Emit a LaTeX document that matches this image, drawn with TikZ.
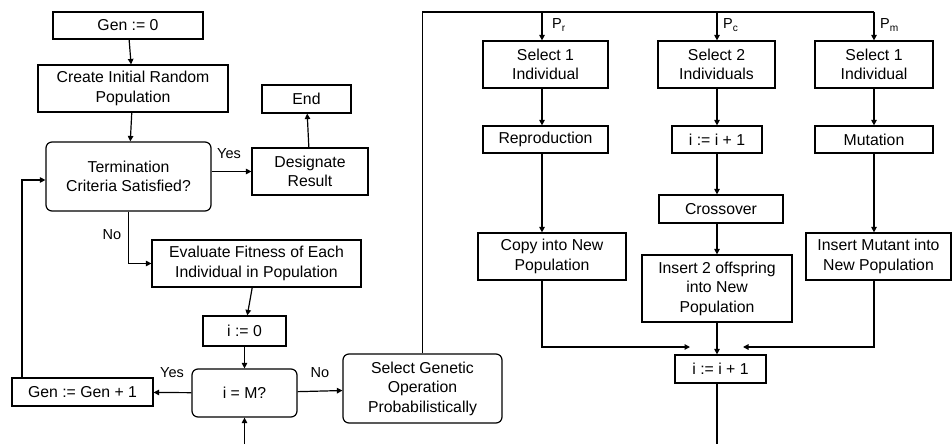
\documentclass[tikz,border=0pt]{standalone}
\usepackage{fontspec}
\setmainfont{Liberation Sans}
\usetikzlibrary{arrows.meta}

\tikzset{
    box/.style={draw, line width=1.2pt, align=center, inner sep=0pt,
        font=\fontsize{15.8}{19.5}\selectfont},
    rbox/.style={box, rounded corners=6pt},
    arr/.style={line width=1.2pt, -{Triangle[length=5.5pt,width=5.5pt]}},
    lbl/.style={font=\fontsize{14.5}{16}\selectfont, inner sep=0pt}
}

\begin{document}
\begin{tikzpicture}[x=1pt, y=-1pt]
                \useasboundingbox (0,0) rectangle (952,444);

                % main loop
                \node[box, minimum width=150pt, minimum height=27pt] (gen0) at (128,25.5) {Gen\ := 0};
                \node[box, minimum width=190pt, minimum height=47pt] (create) at (133,88.5) {Create Initial Random\\Population};
                \node[rbox, minimum width=165pt, minimum height=69pt] (term) at (128.5,176.5) {Termination\\Criteria\ Satisfied?};
                \node[box, minimum width=89pt, minimum height=28pt] (finish) at (306.5,99) {End};
                \node[box, minimum width=116pt, minimum height=47pt] (result) at (310,171.5) {Designate\\Result};
                \node[box, minimum width=209pt, minimum height=47pt] (eval) at (256.5,263.5) {Evaluate Fitness of Each\\Individual in Population};
                \node[box, minimum width=83pt, minimum height=30pt] (izero) at (244.5,331) {i := 0};
                \node[rbox, minimum width=105pt, minimum height=48pt] (icheck) at (244.5,393) {i = M?};
                \node[box, minimum width=141pt, minimum height=28pt] (nextgen) at (82.5,392) {Gen\ := Gen + 1};
                \node[rbox, minimum width=159pt, minimum height=69pt] (selop) at (422.5,388.5) {Select Genetic\\Operation\\Probabilistically};

                % three operations
                \node[box, minimum width=125pt, minimum height=47pt] (selone) at (545.5,64.5) {Select 1\\Individual};
                \node[box, minimum width=117pt, minimum height=47pt] (seltwo) at (716.5,64.5) {Select 2\\Individuals};
                \node[box, minimum width=118pt, minimum height=47pt] (selmut) at (874,64.5) {Select 1\\Individual};
                \node[box, minimum width=125pt, minimum height=27pt] (repro) at (545.5,139.5) {Reproduction};
                \node[box, minimum width=90pt, minimum height=27pt] (incr) at (717,139.5) {i := i + 1};
                \node[box, minimum width=118pt, minimum height=27pt] (mutate) at (874,139.5) {Mutation};
                \node[box, minimum width=124pt, minimum height=28pt] (cross) at (721,209) {Crossover};
                \node[box, minimum width=148pt, minimum height=47pt] (copy) at (552,256.5) {Copy into New\\Population};
                \node[box, minimum width=150pt, minimum height=67pt] (insert) at (717,288.5) {Insert 2 offspring\\into New\\Population};
                \node[box, minimum width=145pt, minimum height=47pt] (insmut) at (878.5,256.5) {Insert Mutant into\\New\ Population};
                \node[box, minimum width=91pt, minimum height=28pt] (incb) at (720.5,369) {i := i + 1};

                \coordinate (cr) at (542,12);
                \coordinate (cc) at (717,12);
                \coordinate (cm) at (874,12);
                \coordinate (merge) at (717,347);
                \coordinate (loop) at (22,180);
                \coordinate (bottom) at (0,444);

                \draw[arr] (gen0) -- (create);
                \draw[arr] (create) -- (term);
                \draw[arr] (term.east |- result.west) -- (result.west);
                \draw[arr] (result) -- (finish);
                \draw[arr] (term.south) |- (eval.west);
                \draw[arr] (eval) -- (izero);
                \draw[arr] (izero) -- (icheck);
                \draw[arr] (icheck) -- (nextgen);
                \draw[arr] (icheck) -- (selop);
                \draw[arr] (nextgen.north -| loop) -- (loop) -- (term.west |- loop);
                \draw[arr] (bottom -| icheck) -- (icheck.south);

                \draw[line width=1.2pt] (selop.north) -- (selop.north |- cr) -- (cm);
                \draw[arr] (cr) -- (selone.north -| cr);
                \draw[arr] (cc) -- (seltwo.north -| cc);
                \draw[arr] (cm) -- (selmut.north -| cm);
                \node[lbl, right] at (552,25) {P\textsubscript{r}};
                \node[lbl, right] at (723,25) {P\textsubscript{c}};
                \node[lbl, right] at (880,25) {P\textsubscript{m}};

                \draw[arr] (selone.south -| cr) -- (repro.north -| cr);
                \draw[arr] (repro.south -| cr) -- (copy.north -| cr);
                \draw[arr] (seltwo.south -| cc) -- (incr.north -| cc);
                \draw[arr] (incr.south -| cc) -- (cross.north -| cc);
                \draw[arr] (cross.south -| cc) -- (insert.north -| cc);
                \draw[arr] (selmut.south -| cm) -- (mutate.north -| cm);
                \draw[arr] (mutate.south -| cm) -- (insmut.north -| cm);

                \draw[arr] (copy.south -| cr) |- ([xshift=-27pt]merge);
                \draw[arr] (insmut.south -| cm) |- ([xshift=26pt]merge);
                \draw[arr] (insert.south -| cc) -- (incb.north -| cc);
                \draw[line width=1.2pt] (incb.south -| cc) -- (bottom -| cc);

                % branch labels
                \node[lbl] (yesend) at (229,154) {Yes};
                \node[lbl] (noeval) at (112,235) {No};
                \node[lbl] (yesgen) at (172,373) {Yes};
                \node[lbl] (nosel) at (320,373) {No};
            \end{tikzpicture}
\end{document}
